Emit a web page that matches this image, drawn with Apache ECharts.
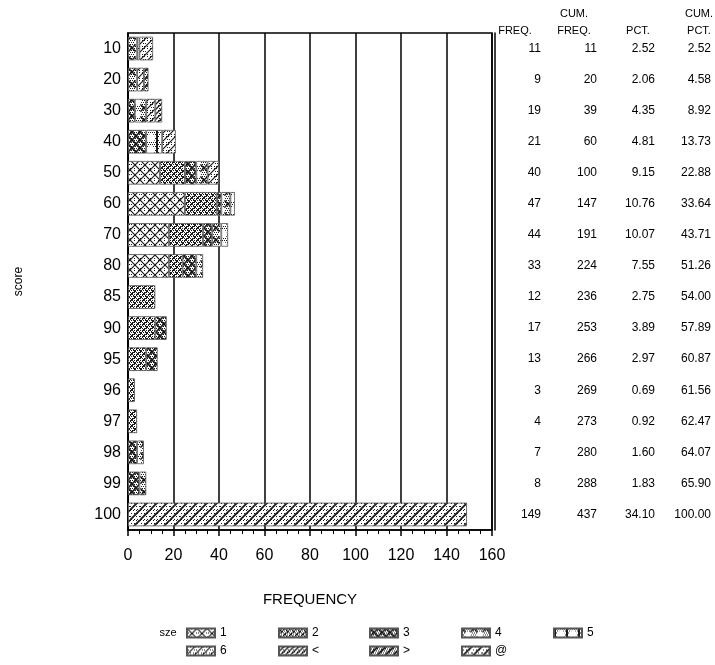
<!DOCTYPE html>
<html>
<head>
<meta charset="utf-8">
<script src="https://cdn.jsdelivr.net/npm/echarts@6/dist/echarts.min.js"></script>
<style>
  html, body { margin: 0; padding: 0; background: #fff; }
  #chart { width: 715px; height: 665px; }
</style>
</head>
<body>
<div id="chart"></div>
<script>
// Score categories (top to bottom)
const scores = ['10','20','30','40','50','60','70','80','85','90','95','96','97','98','99','100'];

// Frequency of each score, split by sze group (stacked)
const sze1  = [0,0,0,0,14,25,18,18,0,0,0,0,0,0,0,0];
const sze2  = [0,0,0,0,11,14,15,6,12,12,8,3,4,0,0,0];
const sze3  = [0,0,3,8,5,2,4,6,0,5,5,0,0,4,5,0];
const sze4  = [4,4,5,0,5,4,4,3,0,0,0,0,0,3,3,0];
const sze5  = [1,0,0,7,0,2,3,0,0,0,0,0,0,0,0,0];
const sze6  = [6,3,4,6,5,0,0,0,0,0,0,0,0,0,0,0];
const szeLt = [0,0,3,0,0,0,0,0,0,0,0,0,0,0,0,0];
const szeGt = [0,2,0,0,0,0,0,0,0,0,0,0,0,0,0,0];
const szeAt = [0,0,0,0,0,0,0,0,0,0,0,0,0,0,0,149];

// Table columns on the right
const freq    = [11,9,19,21,40,47,44,33,12,17,13,3,4,7,8,149];
const cumFreq = [11,20,39,60,100,147,191,224,236,253,266,269,273,280,288,437];
const pct     = ['2.52','2.06','4.35','4.81','9.15','10.76','10.07','7.55','2.75','3.89','2.97','0.69','0.92','1.60','1.83','34.10'];
const cumPct  = ['2.52','4.58','8.92','13.73','22.88','33.64','43.71','51.26','54.00','57.89','60.87','61.56','62.47','64.07','65.90','100.00'];

// X axis ticks
const xMin = 0, xMax = 160, xStep = 20;

const groupNames = ['1','2','3','4','5','6','<','>','@'];
const groupData  = [sze1, sze2, sze3, sze4, sze5, sze6, szeLt, szeGt, szeAt];

// ---- fill patterns for each group ----
function tile(size, draw) {
  const c = document.createElement('canvas');
  c.width = size; c.height = size;
  const g = c.getContext('2d');
  g.fillStyle = '#fff';
  g.fillRect(0, 0, size, size);
  g.strokeStyle = '#1a1a1a';
  g.fillStyle = '#1a1a1a';
  draw(g, size);
  return { image: c, repeat: 'repeat' };
}
function diag(g, s, w, dir) {
  g.lineWidth = w;
  g.beginPath();
  for (let k = -1; k <= 1; k++) {
    if (dir > 0) { g.moveTo(k * s, s); g.lineTo(k * s + s, 0); }
    else { g.moveTo(k * s, 0); g.lineTo(k * s + s, s); }
  }
  g.stroke();
}
function dots(g, s, step) {
  for (let y = 0; y < s; y += step)
    for (let x = (y / step) % 2; x < s; x += step) g.fillRect(x, y, 1, 1);
}
const patterns = [
  tile(10, (g, s) => { dots(g, s, 4); diag(g, s, 1.2, 1); diag(g, s, 1.2, -1); }),
  tile(6,  (g, s) => { dots(g, s, 2); diag(g, s, 1, 1); diag(g, s, 1, -1); }),
  tile(8,  (g, s) => { dots(g, s, 2); diag(g, s, 1.6, 1); diag(g, s, 1.6, -1); }),
  tile(12, (g, s) => { dots(g, s, 2); diag(g, s, 1.5, 1); diag(g, s, 1.5, -1);
                       g.fillStyle = '#fff'; g.beginPath(); g.arc(6, 6, 3.2, 0, Math.PI * 2); g.fill(); }),
  tile(12, (g, s) => { dots(g, s, 2); g.fillRect(0, 0, 2, 12); g.fillStyle = '#fff'; g.beginPath(); g.arc(7, 6, 4, 0, Math.PI * 2); g.fill(); }),
  tile(8,  (g, s) => { dots(g, s, 3); diag(g, s, 1.2, 1); }),
  tile(5,  (g, s) => { dots(g, s, 3); diag(g, s, 1.3, 1); }),
  tile(8,  (g, s) => { dots(g, s, 2); diag(g, s, 2, 1); }),
  tile(10, (g, s) => { dots(g, s, 3); diag(g, s, 1.8, 1); })
];

const series = groupNames.map((name, i) => ({
  name: name,
  type: 'bar',
  stack: 'total',
  barCategoryGap: '24%',
  itemStyle: { color: patterns[i], borderColor: '#555', borderWidth: 0.8 },
  emphasis: { disabled: true },
  data: groupData[i].map(v => (v === 0 ? '-' : v))
}));

const narrow = "'Liberation Sans Narrow', 'Liberation Sans', Arial, sans-serif";
const sans = "'Liberation Sans', Arial, sans-serif";

function tableAxis(values, margin, extra) {
  return Object.assign({
    type: 'category',
    data: values.map(String),
    inverse: true,
    position: 'right',
    axisLine: { show: false },
    axisTick: { show: false },
    splitLine: { show: false },
    axisLabel: { align: 'right', margin: margin, color: '#000', fontFamily: sans, fontSize: 12 }
  }, extra || {});
}

function header(x, y, text) {
  return { type: 'text', x: x, y: y,
           style: { text: text, fill: '#000', font: '11px ' + sans, textAlign: 'center' } };
}

// One legend box per group, laid out in a 5 + 4 grid
const legendCols = [186, 278, 369, 461, 553];
const legendRows = [627, 645];
const legends = groupNames.map((name, i) => ({
  data: [name],
  left: legendCols[i % 5],
  top: legendRows[Math.floor(i / 5)],
  icon: 'rect', itemWidth: 28, itemHeight: 9, itemGap: 0, padding: 0,
  selectedMode: false,
  textStyle: { color: '#000', fontFamily: sans, fontSize: 12 }
}));

const chart = echarts.init(document.getElementById('chart'), null, { renderer: 'canvas' });
chart.setOption({
  animation: false,
  backgroundColor: '#fff',
  grid: {
    left: 128, right: 223, top: 33, bottom: 135,
    show: true, borderColor: '#000', borderWidth: 1.5, backgroundColor: 'transparent'
  },
  xAxis: {
    type: 'value',
    min: xMin, max: xMax, interval: xStep,
    name: 'FREQUENCY',
    nameLocation: 'middle',
    nameGap: 62,
    nameTextStyle: { color: '#000', fontFamily: narrow, fontSize: 15 },
    axisLine: { show: true, lineStyle: { color: '#000', width: 1.5 } },
    axisTick: { show: true, length: 6, lineStyle: { color: '#000', width: 1.5 } },
    minorTick: { show: true, splitNumber: 4, length: 4, lineStyle: { color: '#000', width: 1 } },
    splitLine: { show: true, lineStyle: { color: '#000', width: 1.5 } },
    axisLabel: { color: '#000', fontFamily: narrow, fontSize: 16, margin: 18 }
  },
  yAxis: [
    {
      type: 'category',
      data: scores,
      inverse: true,
      name: 'score',
      nameLocation: 'middle',
      nameGap: 103,
      nameTextStyle: { color: '#000', fontFamily: sans, fontSize: 12 },
      axisLine: { show: true, lineStyle: { color: '#000', width: 1.5 } },
      axisTick: { show: false },
      axisLabel: { color: '#000', fontFamily: narrow, fontSize: 16, margin: 7 }
    },
    tableAxis(freq, 46, { offset: 3, axisLine: { show: true, lineStyle: { color: '#000', width: 1.5 } } }),
    tableAxis(cumFreq, 105),
    tableAxis(pct, 163),
    tableAxis(cumPct, 219)
  ],
  legend: legends,
  graphic: [
    header(515, 25, 'FREQ.'),
    header(574, 8, 'CUM.'),
    header(574, 25, 'FREQ.'),
    header(638, 25, 'PCT.'),
    header(699, 8, 'CUM.'),
    header(699, 25, 'PCT.'),
    { type: 'text', x: 168, y: 627, style: { text: 'sze', fill: '#000', font: '11px ' + sans, textAlign: 'center' } }
  ],
  series: series
});
</script>
</body>
</html>
